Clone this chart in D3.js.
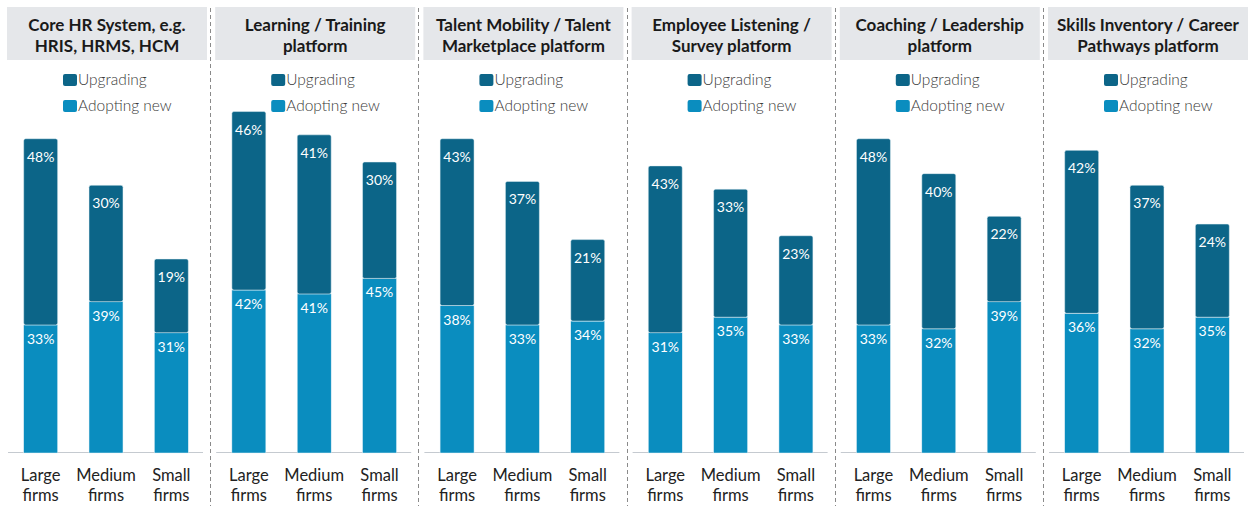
<!DOCTYPE html>
<html><head><meta charset="utf-8">
<script src="https://cdn.jsdelivr.net/npm/d3@7"></script>
<style>body{margin:0;background:#fff}svg{display:block}text{font-family:Lato,"Open Sans",sans-serif}</style>
</head><body><svg id="c" width="1255" height="506"></svg>
<script>
const panelTitles = [
  ["Core HR System, e.g.", "HRIS, HRMS, HCM"],
  ["Learning / Training", "platform"],
  ["Talent Mobility / Talent", "Marketplace platform"],
  ["Employee Listening /", "Survey platform"],
  ["Coaching / Leadership", "platform"],
  ["Skills Inventory / Career", "Pathways platform"]
];
const categories = ["Large firms", "Medium firms", "Small firms"];
const seriesNames = ["Upgrading", "Adopting new"];
const adoptingNew = [
  [33, 39, 31],
  [42, 41, 45],
  [38, 33, 34],
  [31, 35, 33],
  [33, 32, 39],
  [36, 32, 35]
];
const upgrading = [
  [48, 30, 19],
  [46, 41, 30],
  [43, 37, 21],
  [43, 33, 23],
  [48, 40, 22],
  [42, 37, 24]
];

const colors = {"Upgrading": "#0c6588", "Adopting new": "#0a8dbf"};
const svg = d3.select("#c");
const step = 208.2, left0 = 3;
const y = d3.scaleLinear().domain([0, 100]).range([453, 65]);
const x = d3.scaleBand().domain(categories).range([5, 201]).paddingInner(0.48).paddingOuter(0.24);

// separators
for (let i = 1; i < 6; i++) {
  const sx = Math.round(left0 + step * i - 1) + 0.5;
  svg.append("line").attr("x1", sx).attr("x2", sx).attr("y1", 8).attr("y2", 506)
    .attr("stroke", "#8a8a8a").attr("stroke-width", 1).attr("stroke-dasharray", "4,3");
}

panelTitles.forEach((title, i) => {
  const g = svg.append("g").attr("transform", `translate(${left0 + step * i},0)`);
  // header
  g.append("rect").attr("x", 4).attr("y", 7).attr("width", 200).attr("height", 53).attr("fill", "#e5e7ea");
  g.append("text").attr("x", 104).attr("y", 31).attr("text-anchor", "middle")
    .attr("font-size", 17).attr("font-weight", "bold").attr("fill", "#1a1a1a").text(title[0]);
  g.append("text").attr("x", 104).attr("y", 52).attr("text-anchor", "middle")
    .attr("font-size", 17).attr("font-weight", "bold").attr("fill", "#1a1a1a").text(title[1]);
  // legend
  seriesNames.forEach((s, k) => {
    const ly = 74 + k * 26;
    g.append("rect").attr("x", 60).attr("y", ly).attr("width", 14).attr("height", 12).attr("rx", 2)
      .attr("fill", colors[s]);
    g.append("text").attr("x", 75).attr("y", ly + 11).attr("font-size", 15.5).attr("fill", "#3a3a3a")
      .attr("font-weight", 300).text(s);
  });
  // baseline
  g.append("line").attr("x1", 5).attr("x2", 200).attr("y1", 452.5).attr("y2", 452.5)
    .attr("stroke", "#c5cad0").attr("stroke-width", 1.2);
  // bars
  categories.forEach((cat, j) => {
    const a = adoptingNew[i][j], u = upgrading[i][j];
    const bx = x(cat), bw = x.bandwidth();
    // adopting new (bottom)
    g.append("rect").attr("x", bx).attr("y", y(a)).attr("width", bw).attr("height", y(0) - y(a))
      .attr("fill", colors["Adopting new"]).attr("stroke", "#e6f2f7").attr("stroke-width", 0.5);
    // upgrading (top)
    g.append("rect").attr("x", bx).attr("y", y(a + u)).attr("width", bw).attr("height", y(a) - y(a + u))
      .attr("rx", 2).attr("fill", colors["Upgrading"]).attr("stroke", "#e6f2f7").attr("stroke-width", 0.5);
    g.append("text").attr("x", bx + bw / 2).attr("y", y(a + u) + 23).attr("text-anchor", "middle")
      .attr("font-size", 14).attr("fill", "#fff").text(u + "%");
    g.append("text").attr("x", bx + bw / 2).attr("y", y(a) + 19).attr("text-anchor", "middle")
      .attr("font-size", 14).attr("fill", "#fff").text(a + "%");
    const parts = cat.split(" ");
    g.append("text").attr("x", bx + bw / 2).attr("y", 481).attr("text-anchor", "middle")
      .attr("font-size", 16.5).attr("fill", "#222").text(parts[0]);
    g.append("text").attr("x", bx + bw / 2).attr("y", 501).attr("text-anchor", "middle")
      .attr("font-size", 16.5).attr("fill", "#222").text(parts[1]);
  });
});
</script></body></html>
